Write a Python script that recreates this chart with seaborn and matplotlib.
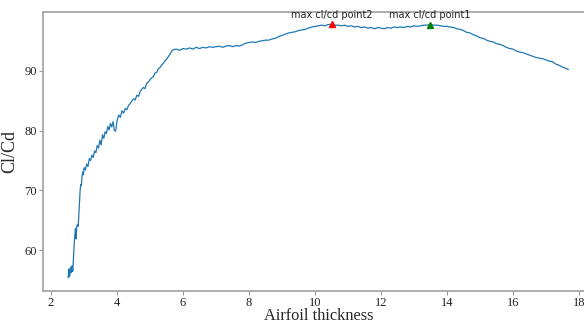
import numpy as np
import pandas as pd
import matplotlib
matplotlib.use('Agg')
import matplotlib.pyplot as plt
import seaborn as sns

### donnees
epaisseur = [
    2.52, 2.54, 2.56, 2.58, 2.60, 2.62, 2.64, 2.66, 2.68, 2.70,
    2.72, 2.74, 2.76, 2.78, 2.80, 2.82, 2.84, 2.86, 2.88, 2.90,
    2.92, 2.94, 2.96, 2.98, 3.00, 3.04, 3.08, 3.12, 3.16, 3.20,
    3.24, 3.28, 3.32, 3.36, 3.40, 3.44, 3.48, 3.52, 3.56, 3.60,
    3.64, 3.68, 3.72, 3.76, 3.80, 3.84, 3.88, 3.92, 3.96, 4.00,
    4.05, 4.10, 4.15, 4.20, 4.25, 4.30, 4.35, 4.40, 4.45, 4.50,
    4.55, 4.60, 4.65, 4.70, 4.75, 4.80, 4.85, 4.90, 4.95, 5.00,
    5.05, 5.10, 5.15, 5.20, 5.25, 5.30, 5.35, 5.40, 5.45, 5.50,
    5.55, 5.60, 5.65, 5.70, 5.80, 5.90, 6.00, 6.10, 6.20, 6.30,
    6.40, 6.50, 6.60, 6.70, 6.80, 6.90, 7.00, 7.10, 7.20, 7.30,
    7.40, 7.50, 7.60, 7.70, 7.80, 7.90, 8.00, 8.10, 8.20, 8.30,
    8.40, 8.50, 8.60, 8.70, 8.80, 8.90, 9.00, 9.10, 9.20, 9.30,
    9.40, 9.50, 9.60, 9.70, 9.80, 9.90, 10.00, 10.10, 10.20, 10.30,
    10.40, 10.52, 10.60, 10.70, 10.80, 10.90, 11.00, 11.10, 11.20, 11.30,
    11.40, 11.50, 11.60, 11.70, 11.80, 11.90, 12.00, 12.10, 12.20, 12.30,
    12.40, 12.50, 12.60, 12.70, 12.80, 12.90, 13.00, 13.10, 13.20, 13.30,
    13.40, 13.48, 13.60, 13.70, 13.80, 13.90, 14.00, 14.10, 14.20, 14.30,
    14.40, 14.50, 14.60, 14.70, 14.80, 14.90, 15.00, 15.10, 15.20, 15.30,
    15.40, 15.50, 15.60, 15.70, 15.80, 15.90, 16.00, 16.10, 16.20, 16.30,
    16.40, 16.50, 16.60, 16.70, 16.80, 16.90, 17.00, 17.10, 17.20, 17.30,
    17.40, 17.50, 17.60, 17.68]

cl_cd = [
    55.4, 56.9, 55.6, 56.2, 57.2, 56.3, 57.4, 56.5, 58.6, 60.8,
    62.4, 63.6, 61.9, 63.9, 64.3, 64.0, 65.5, 67.8, 69.8, 71.0,
    70.8, 72.3, 73.1, 72.6, 73.8, 73.4, 74.4, 74.0, 75.3, 75.0,
    75.9, 75.5, 76.6, 76.3, 77.5, 77.1, 78.4, 77.6, 79.3, 78.7,
    79.8, 79.5, 80.7, 80.1, 81.2, 80.6, 81.5, 80.0, 79.9, 81.6,
    82.6, 82.2, 83.3, 82.9, 83.7, 83.5, 84.2, 84.5, 84.9, 85.3,
    85.1, 85.9, 85.7, 86.5, 86.9, 87.2, 87.0, 87.9, 88.1, 88.5,
    88.8, 89.0, 89.6, 89.7, 90.3, 90.5, 90.9, 91.2, 91.6, 91.9,
    92.3, 92.7, 93.2, 93.5, 93.6, 93.4, 93.7, 93.6, 93.8, 93.6,
    93.9, 93.7, 93.9, 93.8, 94.0, 93.9, 94.0, 94.1, 93.9, 94.1,
    94.2, 94.0, 94.2, 94.1, 94.3, 94.6, 94.7, 94.8, 94.7, 94.9,
    95.0, 95.1, 95.1, 95.3, 95.4, 95.7, 95.9, 96.1, 96.3, 96.4,
    96.5, 96.7, 96.8, 96.9, 97.1, 97.3, 97.4, 97.5, 97.6, 97.5,
    97.7, 97.75, 97.6, 97.6, 97.5, 97.6, 97.4, 97.5, 97.3, 97.4,
    97.2, 97.3, 97.1, 97.2, 97.0, 97.2, 97.1, 97.0, 97.2, 97.1,
    97.3, 97.2, 97.3, 97.2, 97.4, 97.3, 97.5, 97.4, 97.5, 97.6,
    97.6, 97.7, 97.6, 97.6, 97.5, 97.4, 97.4, 97.3, 97.2, 97.0,
    96.9, 96.7, 96.4, 96.3, 96.0, 95.8, 95.5, 95.4, 95.1, 94.9,
    94.8, 94.5, 94.4, 94.2, 93.9, 93.7, 93.6, 93.3, 93.1, 93.0,
    92.8, 92.6, 92.4, 92.2, 92.1, 92.0, 91.8, 91.6, 91.5, 91.1,
    90.9, 90.6, 90.4, 90.2]

# points max annotes
max_labels = ['max cl/cd point2', 'max cl/cd point1']
max_x = [10.52, 13.48]
max_y = [97.75, 97.7]
max_colors = ['red', 'green']

donnees = pd.DataFrame({'thickness': epaisseur, 'clcd': cl_cd})

sns.set_style('ticks')
plt.rcParams['font.family'] = ['Liberation Serif', 'DejaVu Serif']

fig = plt.figure(figsize=(5.84, 3.25), dpi=100)
# axe un peu plus large que la figure (bord droit coupe comme sur l'original)
ax = fig.add_axes([43.1 / 584, 34 / 325, 551 / 584, 279 / 325])

sns.lineplot(data=donnees, x='thickness', y='clcd', sort=False,
             color='#1f77b4', linewidth=0.9, ax=ax)

for lab, xx, yy, col in zip(max_labels, max_x, max_y, max_colors):
    ax.plot(xx, yy, marker='^', color=col, markersize=4, linestyle='none')
    ax.annotate(lab, (xx, yy), xytext=(0, 3), textcoords='offset points',
                ha='center', va='bottom', fontsize=7,
                family=['DejaVu Sans'], color='#222222')

ax.set_xlim(1.76, 18.46)
ax.set_ylim(53.2, 99.8)
ax.set_xticks([2, 4, 6, 8, 10, 12, 14, 16, 18])
ax.set_yticks([60, 70, 80, 90])
ax.set_xlabel('Airfoil thickness', fontsize=11.8, labelpad=-0.6)
ax.set_ylabel('Cl/Cd', fontsize=13, labelpad=4)
ax.tick_params(labelsize=9, length=3, width=0.8, color='#999999',
               labelcolor='#222222', pad=1.5)
for sp in ax.spines.values():
    sp.set_color('#a0a0a0')
    sp.set_linewidth(1.2)

plt.savefig('out.png', dpi=100)
plt.close()
